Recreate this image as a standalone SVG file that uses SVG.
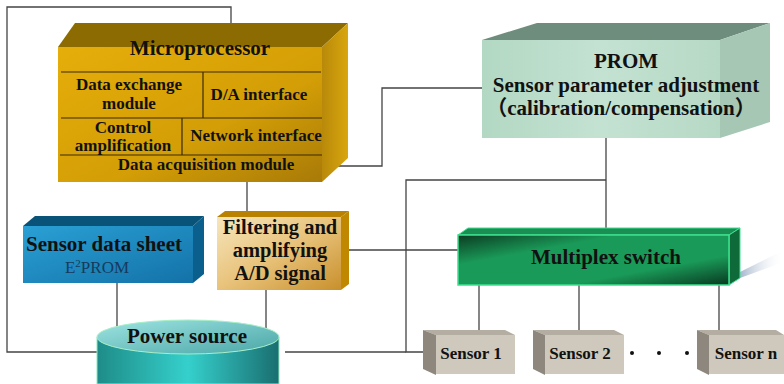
<svg xmlns="http://www.w3.org/2000/svg" width="784" height="384" viewBox="0 0 784 384">
<defs>
<linearGradient id="gMicro" x1="0" y1="0" x2="1" y2="1">
<stop offset="0" stop-color="#e6ae0a"/><stop offset="0.6" stop-color="#d39e06"/><stop offset="1" stop-color="#a87a08"/>
</linearGradient>
<linearGradient id="gMicroR" x1="0" y1="0" x2="1" y2="0">
<stop offset="0" stop-color="#b8890a"/><stop offset="1" stop-color="#d9a60e"/>
</linearGradient>
<linearGradient id="gProm" x1="0" y1="0" x2="1" y2="0">
<stop offset="0" stop-color="#b2d8c3"/><stop offset="0.5" stop-color="#c4e2d2"/><stop offset="1" stop-color="#b6d9c5"/>
</linearGradient>
<linearGradient id="gBlue" x1="0" y1="0" x2="1" y2="1">
<stop offset="0" stop-color="#2aa0d4"/><stop offset="1" stop-color="#1372a8"/>
</linearGradient>
<linearGradient id="gFilt" x1="0" y1="0" x2="1" y2="1">
<stop offset="0" stop-color="#f6e6bd"/><stop offset="0.5" stop-color="#e8c27a"/><stop offset="1" stop-color="#c8902c"/>
</linearGradient>
<linearGradient id="gMux" x1="0" y1="0" x2="1" y2="1">
<stop offset="0" stop-color="#0b3c22"/><stop offset="0.3" stop-color="#1a9a58"/><stop offset="0.7" stop-color="#1a9a58"/><stop offset="1" stop-color="#083820"/>
</linearGradient>
<linearGradient id="gCylTop" x1="0" y1="0" x2="1" y2="1">
<stop offset="0" stop-color="#9ee4e2"/><stop offset="1" stop-color="#4aa6a6"/>
</linearGradient>
<linearGradient id="gCyl" x1="0" y1="0" x2="1" y2="0">
<stop offset="0" stop-color="#1e8c88"/><stop offset="0.5" stop-color="#35d0cc"/><stop offset="1" stop-color="#1a6e70"/>
</linearGradient>
<linearGradient id="gShadow" x1="0" y1="0" x2="1" y2="0">
<stop offset="0" stop-color="#8fa3c0" stop-opacity="0.8"/><stop offset="1" stop-color="#ffffff" stop-opacity="0"/>
</linearGradient>
</defs>
<style>
.ln{fill:none;stroke:#444;stroke-width:1.3}
.in{fill:none;stroke:#3a2a00;stroke-width:1.2}
.b{font-family:"Liberation Serif","Noto Sans CJK SC",serif;font-weight:bold;fill:#111;text-anchor:middle}
.s{fill:#cfc9bd}
.sd{fill:#8e877e}
.stp{fill:#b4ada2}
</style>
<g id="connectors">
<polyline class="ln" points="231,23 231,7 7,7 7,352 97,352"/>
<polyline class="ln" points="327,166 382,166 382,88 482,88"/>
<line class="ln" x1="247" y1="182" x2="247" y2="211"/>
<line class="ln" x1="606" y1="138" x2="606" y2="229"/>
<polyline class="ln" points="606,180 406,180 406,352 423,352"/>
<line class="ln" x1="285" y1="352" x2="406" y2="352"/>
<line class="ln" x1="349" y1="250" x2="458" y2="250"/>
<line class="ln" x1="479" y1="285" x2="479" y2="330"/>
<line class="ln" x1="579" y1="285" x2="579" y2="330"/>
<line class="ln" x1="719" y1="285" x2="719" y2="330"/>
<line class="ln" x1="117" y1="283" x2="117" y2="328"/>
<line class="ln" x1="266" y1="290" x2="266" y2="328"/>
</g>
<g id="microprocessor">
<polygon points="58,47 75,23 348,23 322,47" fill="#8c6c02"/>
<polygon points="322,47 348,23 348,158 322,182" fill="url(#gMicroR)"/>
<rect x="58" y="47" width="264" height="135" fill="url(#gMicro)"/>
<line class="in" x1="61" y1="72" x2="321" y2="72"/>
<line class="in" x1="203" y1="72" x2="203" y2="118"/>
<line class="in" x1="61" y1="118" x2="322" y2="118"/>
<line class="in" x1="182" y1="118" x2="182" y2="155"/>
<line class="in" x1="60" y1="155" x2="322" y2="155"/>
<text class="b" x="200" y="55" font-size="21">Microprocessor</text>
<text class="b" x="129" y="90" font-size="17">Data exchange</text>
<text class="b" x="129" y="109" font-size="17">module</text>
<text class="b" x="259" y="100" font-size="17">D/A interface</text>
<text class="b" x="123" y="133" font-size="17">Control</text>
<text class="b" x="123" y="151" font-size="17">amplification</text>
<text class="b" x="256" y="141" font-size="17">Network interface</text>
<text class="b" x="206" y="170" font-size="17">Data acquisition module</text>
</g>
<g id="prom">
<polygon points="482,40 537,23 770,23 720,40" fill="#6f8d7c"/>
<polygon points="720,40 770,23 770,122 720,138" fill="#a6c7b4"/>
<rect x="482" y="40" width="238" height="98" fill="url(#gProm)"/>
<text class="b" x="626" y="68" font-size="21">PROM</text>
<text class="b" x="626" y="92" font-size="21">Sensor parameter adjustment</text>
<text class="b" x="621" y="115" font-size="21">（calibration/compensation）</text>
</g>
<g id="sensor-data-sheet">
<polygon points="23,226 35,216 204,216 193,226" fill="#0a5378"/>
<polygon points="193,226 204,216 204,274 193,283" fill="#0b5f8c"/>
<rect x="23" y="226" width="170" height="57" fill="url(#gBlue)"/>
<text class="b" x="104" y="251" font-size="21">Sensor data sheet</text>
<text x="97" y="273" font-size="17" font-family="Liberation Serif,serif" fill="#173a5c" text-anchor="middle">E<tspan font-size="11" dy="-6">2</tspan><tspan dy="6">PROM</tspan></text>
</g>
<g id="filtering">
<polygon points="217,217 225,211 349,211 341,217" fill="#b88200"/>
<polygon points="341,217 349,211 349,284 341,290" fill="#c08800"/>
<rect x="217" y="217" width="124" height="73" fill="url(#gFilt)"/>
<text class="b" x="280" y="234" font-size="20.5">Filtering and</text>
<text class="b" x="280" y="257" font-size="20.5">amplifying</text>
<text class="b" x="280" y="280" font-size="20.5">A/D signal</text>
</g>
<g id="multiplex">
<polygon points="740,272 784,250 784,262 740,278" fill="url(#gShadow)"/>
<polygon points="458,235 468,228 740,228 729,235" fill="#1b8f53" stroke="#3fe08f" stroke-width="1"/>
<polygon points="729,235 740,228 740,278 729,285" fill="#0f6a3a" stroke="#3fe08f" stroke-width="1"/>
<rect x="458" y="235" width="271" height="50" fill="url(#gMux)" stroke="#3fe08f" stroke-width="1.5"/>
<text class="b" x="606" y="264" font-size="21">Multiplex switch</text>
</g>
<g id="power-source">
<path d="M97,337 L97,384 L279,384 L279,337 Z" fill="url(#gCyl)" stroke="#8fe8c0" stroke-width="1"/>
<ellipse cx="188" cy="337" rx="91" ry="17" fill="url(#gCylTop)" stroke="#a8f0c8" stroke-width="1"/>
<text class="b" x="187" y="343" font-size="21">Power source</text>
</g>
<g id="sensor-1">
<polygon points="423,330 505,330 515,335 436,335" class="stp"/>
<polygon points="423,330 436,335 436,375 423,369" class="sd"/>
<rect x="436" y="335" width="79" height="39" class="s"/>
<text class="b" x="471" y="359" font-size="17">Sensor 1</text>
</g>
<g id="sensor-2">
<polygon points="533,330 614,330 624,335 545,335" class="stp"/>
<polygon points="533,330 545,335 545,375 533,369" class="sd"/>
<rect x="545" y="335" width="79" height="39" class="s"/>
<text class="b" x="580" y="359" font-size="17">Sensor 2</text>
</g>
<g id="dots">
<circle cx="632" cy="353" r="2" fill="#111"/>
<circle cx="659" cy="353" r="2" fill="#111"/>
<circle cx="687" cy="353" r="2" fill="#111"/>
</g>
<g id="sensor-n">
<polygon points="697,330 776,330 784,335 709,335" class="stp"/>
<polygon points="697,330 709,335 709,375 697,369" class="sd"/>
<rect x="709" y="335" width="75" height="39" class="s"/>
<text class="b" x="746" y="359" font-size="17">Sensor n</text>
</g>
</svg>
